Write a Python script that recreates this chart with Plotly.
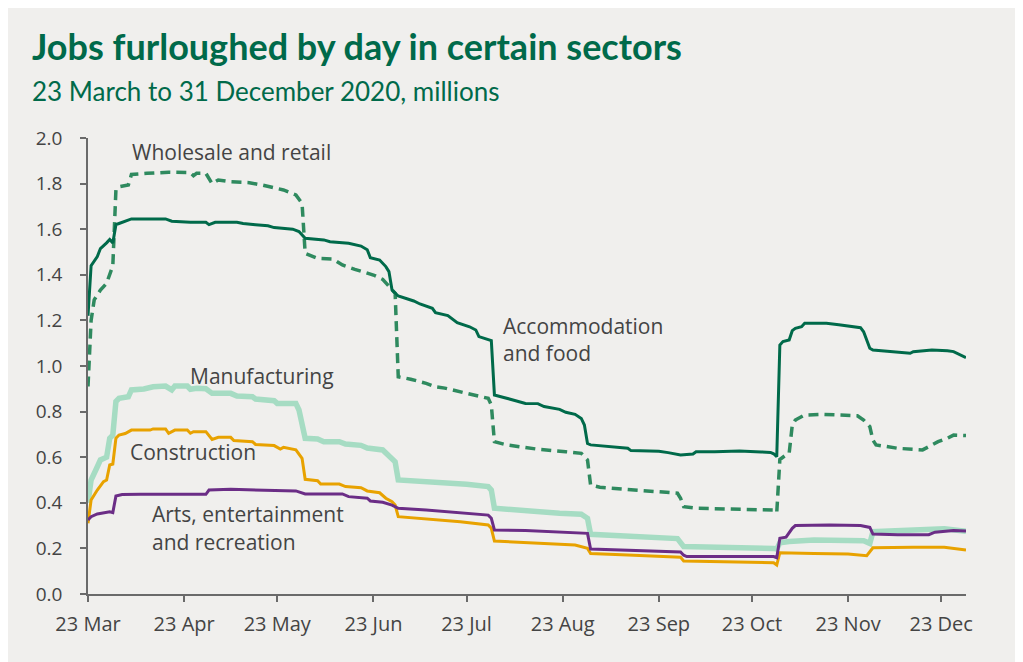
import pandas as pd
import plotly.graph_objects as go

START = "2020-03-23"

# Day offsets (days since 23 March 2020) and values in millions
acc_days = [0, 1, 3, 4, 6, 7, 8, 9, 10, 13, 14, 25, 27, 33, 38, 39, 41, 48, 50, 54, 58, 60, 66, 68, 70, 76, 78, 84,
            88, 90, 91, 94, 96, 97, 98, 100, 105, 107, 111, 112, 116, 119, 123, 125, 126, 130, 131, 134, 139, 141,
            145, 147, 152, 154, 157, 159, 160, 161, 162, 168, 174, 175, 184, 187, 191, 195, 196, 202, 210, 217, 220,
            221, 222, 223, 224, 226, 227, 228, 230, 231, 238, 242, 247, 249, 250, 252, 253, 257, 261, 265, 266, 272,
            277, 279, 283]
acc_vals = [1.22, 1.44, 1.48, 1.515, 1.54, 1.555, 1.54, 1.62, 1.625, 1.64, 1.645, 1.645, 1.635, 1.63, 1.63, 1.62,
            1.63, 1.63, 1.625, 1.62, 1.615, 1.607, 1.60, 1.59, 1.56, 1.553, 1.545, 1.538, 1.526, 1.51, 1.475, 1.465,
            1.436, 1.414, 1.333, 1.307, 1.285, 1.272, 1.253, 1.234, 1.221, 1.19, 1.172, 1.158, 1.129, 1.111, 0.873,
            0.862, 0.844, 0.836, 0.835, 0.822, 0.81, 0.797, 0.788, 0.77, 0.741, 0.66, 0.654, 0.646, 0.639, 0.629,
            0.626, 0.62, 0.61, 0.614, 0.624, 0.624, 0.627, 0.623, 0.621, 0.615, 0.602, 1.092, 1.107, 1.114, 1.155,
            1.165, 1.172, 1.187, 1.187, 1.181, 1.172, 1.168, 1.15, 1.078, 1.07, 1.066, 1.059, 1.056, 1.063, 1.07,
            1.067, 1.063, 1.037]

ws_days = [0, 1, 2, 4, 6, 7, 8, 9, 10, 13, 14, 19, 26, 33, 34, 35, 38, 40, 42, 46, 52, 56, 60, 63, 67, 69, 70, 74,
           79, 82, 86, 90, 92, 95, 97, 99, 100, 104, 109, 112, 115, 120, 124, 129, 130, 131, 135, 145, 154, 159, 161,
           162, 165, 174, 184, 190, 191, 192, 196, 207, 221, 222, 223, 225, 226, 227, 228, 231, 237, 248, 250, 252,
           253, 254, 261, 269, 271, 274, 277, 279, 283]
ws_vals = [0.91, 1.2, 1.29, 1.333, 1.363, 1.40, 1.44, 1.772, 1.786, 1.794, 1.84, 1.845, 1.85, 1.848, 1.835, 1.845,
           1.845, 1.80, 1.816, 1.808, 1.804, 1.794, 1.782, 1.772, 1.75, 1.713, 1.494, 1.472, 1.469, 1.443, 1.424,
           1.406, 1.399, 1.38, 1.348, 1.319, 0.953, 0.942, 0.924, 0.909, 0.903, 0.887, 0.873, 0.858, 0.829, 0.668,
           0.654, 0.635, 0.624, 0.617, 0.588, 0.478, 0.468, 0.459, 0.449, 0.442, 0.42, 0.383, 0.376, 0.373, 0.368,
           0.357, 0.59, 0.61, 0.617, 0.74, 0.763, 0.785, 0.788, 0.782, 0.763, 0.734, 0.675, 0.654, 0.639, 0.632,
           0.646, 0.668, 0.683, 0.697, 0.695]

mf_days = [0, 1, 3, 4, 6, 7, 8, 9, 10, 13, 14, 18, 21, 25, 27, 28, 32, 33, 35, 38, 40, 46, 48, 53, 54, 60, 61, 67,
           68, 70, 74, 76, 81, 83, 88, 90, 95, 97, 99, 100, 109, 122, 129, 130, 131, 141, 152, 159, 161, 162, 174,
           184, 190, 192, 212, 221, 222, 223, 226, 234, 250, 252, 253, 261, 271, 276, 283]
mf_vals = [0.40, 0.50, 0.558, 0.588, 0.60, 0.683, 0.697, 0.844, 0.858, 0.865, 0.895, 0.899, 0.909, 0.912, 0.895,
           0.912, 0.912, 0.898, 0.902, 0.90, 0.88, 0.88, 0.868, 0.865, 0.855, 0.848, 0.836, 0.836, 0.807, 0.683,
           0.68, 0.668, 0.668, 0.658, 0.652, 0.64, 0.632, 0.602, 0.58, 0.50, 0.493, 0.481, 0.471, 0.456, 0.376,
           0.364, 0.354, 0.35, 0.332, 0.262, 0.256, 0.249, 0.243, 0.208, 0.206, 0.2, 0.197, 0.225, 0.23, 0.237,
           0.234, 0.222, 0.273, 0.276, 0.281, 0.286, 0.275]

con_days = [0, 1, 3, 5, 6, 7, 8, 9, 10, 12, 14, 20, 21, 25, 26, 28, 32, 33, 34, 38, 40, 42, 46, 47, 53, 54, 60, 62,
            63, 67, 69, 70, 74, 75, 81, 83, 88, 90, 94, 96, 98, 99, 100, 109, 120, 129, 130, 131, 141, 152, 157, 161,
            162, 174, 184, 191, 192, 202, 221, 222, 223, 234, 245, 251, 253, 266, 276, 283]
con_vals = [0.31, 0.412, 0.456, 0.493, 0.50, 0.566, 0.57, 0.683, 0.697, 0.704, 0.719, 0.719, 0.724, 0.724, 0.705,
            0.719, 0.719, 0.705, 0.712, 0.712, 0.678, 0.687, 0.687, 0.673, 0.668, 0.656, 0.651, 0.636, 0.643, 0.632,
            0.595, 0.503, 0.497, 0.482, 0.482, 0.471, 0.466, 0.452, 0.444, 0.42, 0.405, 0.39, 0.339, 0.329, 0.317,
            0.303, 0.288, 0.232, 0.225, 0.219, 0.215, 0.20, 0.178, 0.171, 0.164, 0.161, 0.145, 0.143, 0.137, 0.127,
            0.181, 0.178, 0.175, 0.168, 0.203, 0.205, 0.205, 0.193]

art_days = [0, 1, 3, 6, 7, 8, 9, 11, 17, 38, 39, 46, 56, 67, 70, 82, 84, 89, 90, 91, 95, 98, 100, 109, 120, 129,
            130, 131, 141, 152, 161, 162, 174, 184, 191, 192, 193, 221, 222, 223, 225, 227, 228, 239, 249, 252, 253,
            261, 271, 273, 277, 279, 283]
art_vals = [0.325, 0.339, 0.351, 0.361, 0.361, 0.357, 0.43, 0.436, 0.437, 0.437, 0.456, 0.459, 0.456, 0.452, 0.439,
            0.439, 0.427, 0.423, 0.42, 0.408, 0.402, 0.39, 0.376, 0.368, 0.357, 0.346, 0.332, 0.281, 0.278, 0.273,
            0.266, 0.197, 0.193, 0.189, 0.184, 0.17, 0.164, 0.164, 0.159, 0.244, 0.249, 0.288, 0.30, 0.303, 0.30,
            0.292, 0.263, 0.26, 0.26, 0.271, 0.274, 0.278, 0.276]

x_tick_dates = ["2020-03-23", "2020-04-23", "2020-05-23", "2020-06-23", "2020-07-23", "2020-08-23",
                "2020-09-23", "2020-10-23", "2020-11-23", "2020-12-23"]
x_tick_text = ["23 Mar", "23 Apr", "23 May", "23 Jun", "23 Jul", "23 Aug", "23 Sep", "23 Oct", "23 Nov", "23 Dec"]
y_tick_vals = [0.0, 0.2, 0.4, 0.6, 0.8, 1.0, 1.2, 1.4, 1.6, 1.8, 2.0]
y_tick_text = ["0.0", "0.2", "0.4", "0.6", "0.8", "1.0", "1.2", "1.4", "1.6", "1.8", "2.0"]


def to_dates(days):
    return pd.Timestamp(START) + pd.to_timedelta(days, unit="D")


BG = "#f0efed"
GREEN = "#006a4a"
DASH_GREEN = "#2f8a5f"
MINT = "#a6dcc3"
ORANGE = "#e8a200"
PURPLE = "#6b2d86"
TXT = "#444444"
AX = "#6a6a6a"

fig = go.Figure()
fig.add_trace(go.Scatter(x=to_dates(mf_days), y=mf_vals, mode="lines", name="Manufacturing",
                         line=dict(color=MINT, width=5.5)))
fig.add_trace(go.Scatter(x=to_dates(con_days), y=con_vals, mode="lines", name="Construction",
                         line=dict(color=ORANGE, width=3)))
fig.add_trace(go.Scatter(x=to_dates(art_days), y=art_vals, mode="lines", name="Arts, entertainment and recreation",
                         line=dict(color=PURPLE, width=3)))
fig.add_trace(go.Scatter(x=to_dates(ws_days), y=ws_vals, mode="lines", name="Wholesale and retail",
                         line=dict(color=DASH_GREEN, width=3.5, dash="10px,6px")))
fig.add_trace(go.Scatter(x=to_dates(acc_days), y=acc_vals, mode="lines", name="Accommodation and food",
                         line=dict(color=GREEN, width=3)))

# page places the figure 8px in from the top-left corner
W, H = 1015, 654
L, R, T, B = 80, 57, 130, 68
pw, ph = W - L - R, H - T - B


def px(xp):
    return (xp - L) / pw


def py(yp):
    return (H - B - yp) / ph


ann_font = dict(family="Open Sans", size=21, color=TXT)
labels = [
    ("Wholesale and retail", 13.5, 1.94),
    ("Accommodation", 133.0, 1.177),
    ("and food", 133.0, 1.055),
    ("Manufacturing", 32.3, 0.956),
    ("Construction", 12.8, 0.623),
    ("Arts, entertainment", 19.9, 0.351),
    ("and recreation", 19.9, 0.228),
]
annotations = []
for text, d, v in labels:
    annotations.append(dict(x=to_dates([d])[0], y=v, xref="x", yref="y", text=text, showarrow=False,
                            xanchor="left", yanchor="middle", font=ann_font))

annotations.append(dict(x=px(22), y=py(38), xref="paper", yref="paper", xanchor="left", yanchor="middle",
                        text="<b>Jobs furloughed by day in certain sectors</b>", showarrow=False,
                        font=dict(family="Lato", size=36, color=GREEN)))
annotations.append(dict(x=px(22), y=py(83), xref="paper", yref="paper", xanchor="left", yanchor="middle",
                        text="23 March to 31 December 2020, millions", showarrow=False,
                        font=dict(family="Lato", size=26, color=GREEN)))

fig.update_layout(
    width=W, height=H,
    margin=dict(l=L, r=R, t=T, b=B, pad=0),
    paper_bgcolor=BG, plot_bgcolor=BG,
    showlegend=False,
    annotations=annotations,
    font=dict(family="Open Sans", color=TXT),
)
fig.update_xaxes(
    type="date", range=["2020-03-23", "2020-12-31"],
    tickvals=x_tick_dates, ticktext=x_tick_text,
    ticks="outside", ticklen=6, tickwidth=1.5, tickcolor=AX,
    showline=True, linecolor=AX, linewidth=1.5,
    showgrid=False, zeroline=False,
    tickfont=dict(family="Open Sans", size=20, color=TXT),
    ticklabelstandoff=5,
)
fig.update_yaxes(
    range=[0, 2], tickvals=y_tick_vals, ticktext=y_tick_text,
    ticks="outside", ticklen=6, tickwidth=1.5, tickcolor=AX,
    showline=True, linecolor=AX, linewidth=1.5,
    showgrid=False, zeroline=False,
    tickfont=dict(family="Open Sans", size=19, color=TXT),
    ticklabelstandoff=14,
)

fig.write_html("out.html")
